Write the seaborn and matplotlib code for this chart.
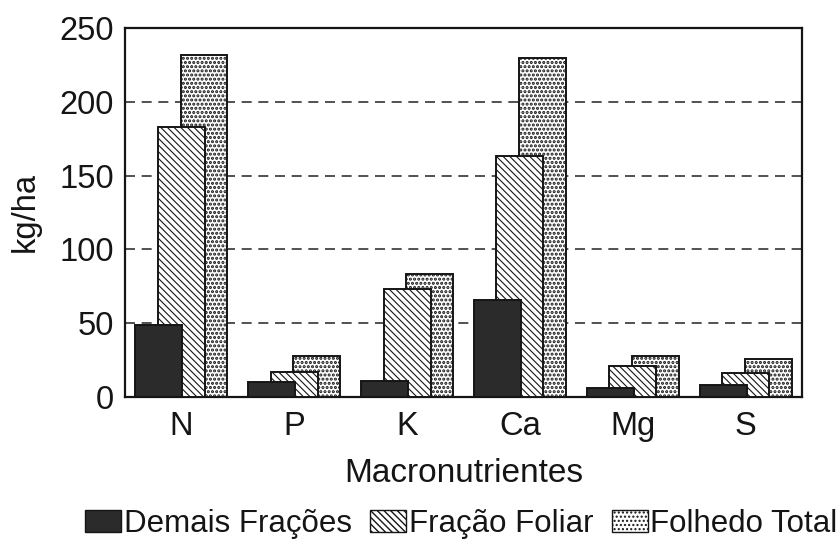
import matplotlib
matplotlib.use("Agg")
import matplotlib.pyplot as plt
from matplotlib.patches import Patch
import numpy as np
import pandas as pd
import seaborn as sns

# Macronutrient stocks (kg/ha)
nutrientes = ["N", "P", "K", "Ca", "Mg", "S"]
demais_fracoes = [49, 10, 11, 66, 6, 8]
fracao_foliar = [183, 17, 73, 163, 21, 16]
folhedo_total = [232, 28, 83, 230, 28, 26]
y_ticks = [0, 50, 100, 150, 200, 250]

sns.set_theme(style="white")
plt.rcParams["font.family"] = ["Liberation Sans", "DejaVu Sans"]

fig = plt.figure(figsize=(8.39, 5.40), dpi=100)
ax = fig.add_axes([0.149, 0.265, 0.807, 0.683])

pos = np.arange(len(nutrientes))
bar_w = 0.416
shift = 0.2
ink = "#151515"

# (label, values, offset, face, hatch, hatch line width) -- drawn back to front
series = [
    ("Folhedo Total", folhedo_total, shift, "white", "....", 1.5),
    ("Fração Foliar", fracao_foliar, 0.0, "white", "\\\\\\\\\\", 0.8),
    ("Demais Frações", demais_fracoes, -shift, "#2b2b2b", None, 0.8),
]

handles = {}
for label, vals, off, face, hatch, hlw in series:
    plt.rcParams["hatch.linewidth"] = hlw
    df = pd.DataFrame({"x": pos + off, "y": vals})
    sns.barplot(data=df, x="x", y="y", native_scale=True, width=bar_w,
                color=face, saturation=1, edgecolor=ink,
                linewidth=1.4, hatch=hatch, ax=ax, zorder=3)
    handles[label] = Patch(facecolor=face, edgecolor=ink,
                           linewidth=1.0, hatch=hatch, label=label)

for y in y_ticks[1:-1]:
    ax.axhline(y, color="#333333", linewidth=1.2,
               linestyle=(0, (6, 4)), zorder=1)

ax.set_xlim(-0.5, len(nutrientes) - 0.5)
ax.set_ylim(0, 250)
ax.set_yticks(y_ticks)
ax.set_yticklabels([str(v) for v in y_ticks], fontsize=23.5, color=ink)
ax.set_xticks(pos)
ax.set_xticklabels(nutrientes, fontsize=23.5, color=ink)
ax.tick_params(axis="both", length=0)
ax.tick_params(axis="y", pad=8)
ax.tick_params(axis="x", pad=10)
ax.set_xlabel("Macronutrientes", fontsize=24, color=ink, labelpad=12)
ax.set_ylabel("kg/ha", fontsize=23.5, color=ink, labelpad=13)

for sp in ax.spines.values():
    sp.set_visible(True)
    sp.set_color(ink)
    sp.set_linewidth(1.6)

order = ["Demais Frações", "Fração Foliar", "Folhedo Total"]
plt.rcParams["hatch.linewidth"] = 1.0
fig.legend([handles[k] for k in order], order, loc="center",
           bbox_to_anchor=(0.55, 0.030), ncol=3, frameon=False,
           fontsize=22.5, handlelength=1.15, handleheight=0.68,
           handletextpad=0.08, columnspacing=0.6, borderpad=0,
           labelcolor=ink)

fig.savefig("out.png", dpi=100)
